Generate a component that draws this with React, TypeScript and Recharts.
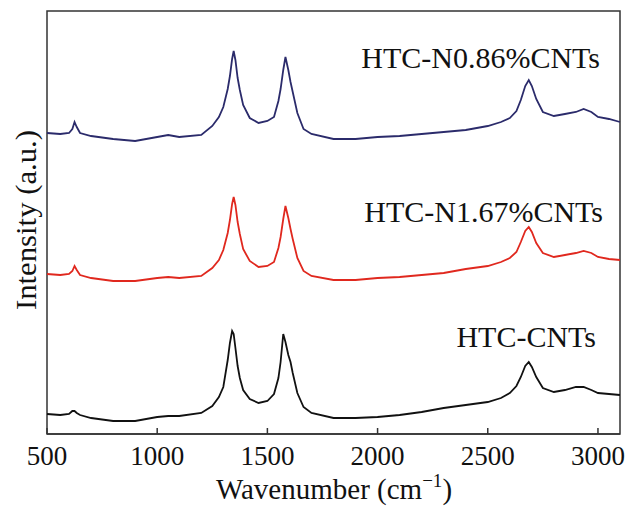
import React from 'react';
import { LineChart, Line, XAxis, YAxis, ReferenceArea } from 'recharts';

// Raman spectra, stacked with a vertical offset (arbitrary units)
const wavenumbers = [
  500, 560, 600, 615, 625, 635, 650, 700, 800, 900,
  1000, 1050, 1100, 1200, 1250, 1280, 1300, 1320, 1330, 1340,
  1347, 1355, 1365, 1375, 1390, 1420, 1460, 1500, 1530, 1550,
  1560, 1572, 1582, 1595, 1605, 1615, 1636, 1664, 1700, 1800,
  1900, 2000, 2100, 2200, 2300, 2400, 2500, 2560, 2600, 2630,
  2650, 2670, 2686, 2700, 2720, 2750, 2800, 2850, 2900, 2935,
  2970, 3000, 3050, 3100,
];

const htcN086 = [
  301, 300, 301, 305, 312, 307, 301, 298, 295, 293,
  297, 299, 297, 299, 308, 317, 327, 345, 358, 375,
  383, 374, 356, 344, 329, 316, 311, 313, 317, 333,
  345, 364, 377, 364, 352, 342, 321, 305, 300, 295,
  295, 297, 298, 300, 302, 304, 308, 312, 316, 323,
  334, 348, 354, 348, 335, 322, 318, 320, 322, 325,
  322, 317, 315, 312,
];

const htcN167 = [
  160, 159, 160, 163, 168, 164, 159, 156, 153, 153,
  156, 157, 156, 158, 166, 174, 184, 201, 214, 230,
  237, 229, 212, 200, 185, 173, 167, 168, 172, 186,
  197, 215, 228, 216, 205, 195, 176, 163, 158, 154,
  154, 156, 157, 159, 161, 165, 168, 172, 176, 182,
  192, 203, 207, 202, 191, 181, 177, 179, 181, 183,
  181, 177, 175, 174,
];

const htcCNTs = [
  20, 19, 20, 23, 23, 21, 19, 16, 13, 13,
  17, 18, 18, 21, 28, 37, 47, 74, 91, 103,
  100, 86, 68, 56, 44, 35, 31, 33, 40, 56,
  72, 100, 92, 79, 72, 61, 41, 27, 21, 16,
  16, 17, 19, 22, 26, 29, 32, 36, 41, 48,
  57, 68, 72, 67, 57, 46, 42, 44, 47, 47,
  44, 41, 40, 39,
];

const xTicks = [500, 1000, 1500, 2000, 2500, 3000];

const data = wavenumbers.map((w, i) => ({
  w,
  a: htcN086[i],
  b: htcN167[i],
  c: htcCNTs[i],
}));

const FONT = '"Liberation Serif", "Times New Roman", serif';
const AXIS = '#333';

function BottomTick({ x, y, payload }: any) {
  return (
    <g>
      <line x1={x} y1={y} x2={x} y2={y - 6} stroke={AXIS} strokeWidth={1.5} />
      <text x={x} y={y + 31} textAnchor="middle" fontFamily={FONT} fontSize={27} fill="#111">
        {payload.value}
      </text>
    </g>
  );
}

export default function App() {
  return (
    <div style={{ position: 'absolute', left: 0, top: 0, background: '#fff' }}>
      <LineChart
        width={629}
        height={511}
        data={data}
        margin={{ top: 11, right: 9, left: 47, bottom: 0 }}
      >
        <XAxis
          dataKey="w"
          type="number"
          domain={[500, 3100]}
          ticks={xTicks}
          height={77}
          tickSize={0}
          tickMargin={0}
          tickLine={false}
          axisLine={{ stroke: AXIS, strokeWidth: 1.5 }}
          tick={<BottomTick />}
          interval={0}
        />
        <YAxis hide domain={[0, 423]} type="number" />
        <ReferenceArea
          x1={500}
          x2={3100}
          y1={0}
          y2={423}
          fill="none"
          stroke={AXIS}
          strokeWidth={1.5}
          ifOverflow="extendDomain"
        />
        <Line dataKey="c" type="linear" stroke="#111111" strokeWidth={1.8} dot={false} isAnimationActive={false} />
        <Line dataKey="b" type="linear" stroke="#e0281e" strokeWidth={1.8} dot={false} isAnimationActive={false} />
        <Line dataKey="a" type="linear" stroke="#2b2b6b" strokeWidth={1.8} dot={false} isAnimationActive={false} />
        <text x={600} y={68} textAnchor="end" fontFamily={FONT} fontSize={30} fill="#111">HTC-N0.86%CNTs</text>
        <text x={603} y={222} textAnchor="end" fontFamily={FONT} fontSize={30} fill="#111">HTC-N1.67%CNTs</text>
        <text x={596} y={347} textAnchor="end" fontFamily={FONT} fontSize={30} fill="#111">HTC-CNTs</text>
        <text x={334} y={499} textAnchor="middle" fontFamily={FONT} fontSize={29} fill="#111">
          Wavenumber (cm<tspan dy={-12} fontSize={19}>−1</tspan><tspan dy={12}>)</tspan>
        </text>
        <text
          x={36}
          y={220}
          textAnchor="middle"
          transform="rotate(-90 36 220)"
          fontFamily={FONT}
          fontSize={30}
          textLength={180}
          lengthAdjust="spacingAndGlyphs"
          fill="#111"
        >
          Intensity (a.u.)
        </text>
      </LineChart>
    </div>
  );
}
